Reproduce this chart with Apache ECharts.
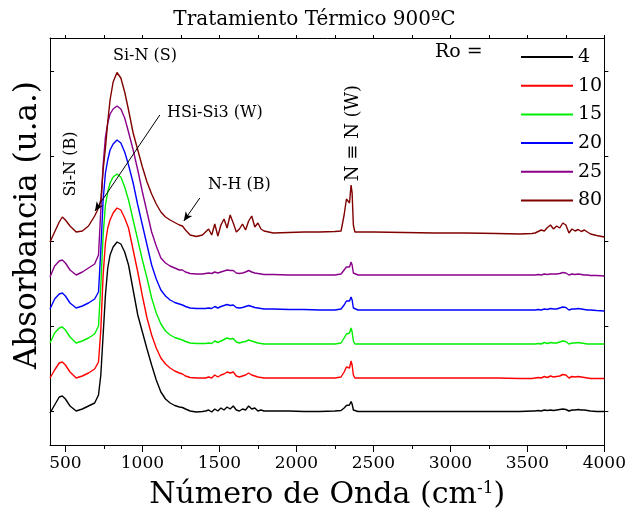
<!DOCTYPE html>
<html>
<head>
<meta charset="utf-8">
<script src="https://cdn.jsdelivr.net/npm/echarts@6/dist/echarts.min.js"></script>
<style>
  html, body { margin: 0; padding: 0; background: #fff; }
  #chart { width: 629px; height: 519px; }
</style>
</head>
<body>
<div id="chart"></div>
<script>
// wavenumbers (cm-1), shared by every spectrum
const waveNumbers = [
  400, 430, 460, 480, 500, 530, 570, 610, 650, 690, 715, 730, 745, 760, 775, 790, 810, 835, 860, 885,
  910, 940, 970, 1000, 1030, 1060, 1090, 1120, 1150, 1180, 1210, 1240, 1260, 1280, 1310, 1350, 1390,
  1410, 1430, 1450, 1470, 1490, 1510, 1530, 1550, 1570, 1590, 1610, 1630, 1650, 1670, 1690, 1710, 1730, 1750, 1770, 1790,
  1850, 1950, 2050, 2150, 2250, 2290, 2310, 2325, 2335, 2345, 2355, 2362, 2370, 2380, 2400, 2500, 2700, 2900, 3100, 3300, 3450,
  3530, 3550, 3570, 3590, 3610, 3630, 3650, 3670, 3690, 3710, 3730, 3750, 3770, 3790, 3810, 3830, 3850, 3870, 3890, 3910,
  3950, 4000
]

// absorbance (u.a., stacked)
const ro4 = [
  3.2, 4.0, 4.8, 4.9, 4.6, 3.9, 3.4, 3.6, 3.9, 4.2, 5.0, 7.0, 11.0, 15.0, 17.7, 19.0, 19.8, 20.3, 20.1, 19.3,
  18.0, 15.5, 13.0, 11.3, 9.6, 8.0, 6.5, 5.3, 4.6, 4.2, 3.95, 3.8, 3.75, 3.6, 3.4, 3.3, 3.35,
  3.4, 3.5, 3.3, 3.6, 3.4, 3.7, 3.5, 3.8, 3.6, 3.9, 3.5, 3.4, 3.6, 3.5, 3.9, 3.6, 3.7, 3.4, 3.5, 3.4,
  3.4, 3.4, 3.35, 3.35, 3.4, 3.45, 3.7, 3.95, 4.05, 4.0, 4.35, 4.1, 3.5, 3.35, 3.35, 3.35, 3.35, 3.35, 3.35, 3.35, 3.35,
  3.4, 3.4, 3.45, 3.4, 3.5, 3.45, 3.5, 3.45, 3.5, 3.55, 3.6, 3.55, 3.4, 3.5, 3.5, 3.55, 3.5, 3.5, 3.45, 3.4,
  3.35, 3.35
]
const ro10 = [
  6.7, 7.5, 8.2, 8.3, 8.0, 7.3, 6.7, 6.9, 7.2, 7.6, 8.3, 11.5, 17.0, 20.2, 21.7, 22.5, 23.2, 23.7, 23.5, 22.7,
  21.7, 19.5, 17.3, 14.9, 12.7, 11.0, 9.7, 8.7, 8.1, 7.7, 7.4, 7.2, 7.1, 6.9, 6.75, 6.7, 6.7,
  6.7, 6.8, 6.7, 7.0, 6.8, 7.0, 7.1, 7.3, 7.2, 7.3, 6.9, 6.8, 6.9, 7.0, 7.2, 7.0, 6.9, 6.8, 6.75, 6.7,
  6.7, 6.7, 6.7, 6.7, 6.7, 6.8, 7.3, 7.8, 7.9, 7.7, 8.4, 8.0, 7.0, 6.7, 6.7, 6.7, 6.7, 6.7, 6.7, 6.7, 6.65,
  6.65, 6.7, 6.75, 6.7, 6.85, 6.75, 6.9, 6.8, 6.85, 6.9, 7.05, 7.0, 6.7, 6.85, 6.8, 6.85, 6.8, 6.75, 6.7, 6.65,
  6.65, 6.65
]
const ro15 = [
  10.2, 11.2, 11.7, 11.8, 11.5, 10.8, 10.2, 10.4, 10.7, 11.1, 11.9, 16.0, 21.0, 24.0, 25.3, 26.2, 26.8, 27.1, 26.8, 25.8,
  24.5, 22.5, 20.5, 18.5, 16.7, 14.7, 13.2, 12.1, 11.4, 11.0, 10.75, 10.6, 10.5, 10.35, 10.2, 10.15, 10.15,
  10.15, 10.2, 10.15, 10.4, 10.25, 10.4, 10.55, 10.7, 10.6, 10.65, 10.3, 10.2, 10.3, 10.35, 10.5, 10.4, 10.3, 10.2, 10.15, 10.1,
  10.1, 10.1, 10.1, 10.1, 10.1, 10.2, 10.7, 11.1, 11.25, 11.2, 11.7, 11.3, 10.4, 10.1, 10.1, 10.1, 10.1, 10.1, 10.1, 10.1, 10.1,
  10.1, 10.1, 10.15, 10.1, 10.25, 10.15, 10.25, 10.2, 10.2, 10.3, 10.4, 10.35, 10.1, 10.2, 10.2, 10.25, 10.2, 10.15, 10.1, 10.1,
  10.1, 10.1
]
const ro20 = [
  13.6, 14.6, 15.1, 15.2, 14.9, 14.2, 13.7, 13.9, 14.2, 14.6, 15.3, 19.5, 24.5, 27.2, 28.5, 29.5, 30.1, 30.5, 30.2, 29.3,
  28.0, 26.2, 24.0, 22.0, 20.0, 18.0, 16.6, 15.5, 14.9, 14.5, 14.25, 14.1, 14.0, 13.85, 13.7, 13.65, 13.65,
  13.65, 13.7, 13.65, 13.85, 13.7, 13.85, 13.95, 14.05, 13.95, 14.0, 13.75, 13.7, 13.75, 13.85, 13.95, 13.85, 13.75, 13.7, 13.65, 13.6,
  13.6, 13.55, 13.55, 13.5, 13.5, 13.6, 14.0, 14.4, 14.5, 14.4, 14.8, 14.5, 13.7, 13.5, 13.5, 13.5, 13.5, 13.5, 13.5, 13.5, 13.5,
  13.5, 13.5, 13.55, 13.5, 13.6, 13.55, 13.65, 13.6, 13.6, 13.7, 13.8, 13.75, 13.5, 13.6, 13.6, 13.65, 13.6, 13.55, 13.5, 13.5,
  13.45, 13.4
]
const ro25 = [
  16.8, 17.9, 18.4, 18.5, 18.2, 17.5, 17.0, 17.3, 17.7, 18.1, 19.0, 23.5, 28.0, 30.8, 32.2, 33.1, 33.6, 33.9, 33.6, 32.7,
  31.3, 29.5, 27.5, 25.3, 23.3, 21.3, 19.9, 18.7, 18.2, 17.9, 17.7, 17.5, 17.5, 17.3, 17.15, 17.1, 17.1,
  17.15, 17.2, 17.15, 17.3, 17.2, 17.3, 17.4, 17.5, 17.45, 17.45, 17.2, 17.15, 17.2, 17.3, 17.45, 17.3, 17.2, 17.15, 17.1, 17.05,
  17.05, 17.0, 17.0, 17.0, 17.0, 17.1, 17.5, 17.8, 17.9, 17.8, 18.3, 18.0, 17.2, 17.0, 17.0, 17.0, 17.0, 17.0, 17.0, 17.0, 17.0,
  17.0, 17.0, 17.05, 17.0, 17.1, 17.05, 17.1, 17.1, 17.1, 17.15, 17.25, 17.2, 17.0, 17.1, 17.05, 17.1, 17.05, 17.0, 17.0, 16.95,
  16.95, 16.9
]
const ro80 = [
  20.3, 21.3, 22.3, 22.8, 22.5, 21.9, 21.3, 21.4, 21.9, 22.9, 23.7, 24.5, 27.5, 29.7, 32.3, 34.5, 36.3, 37.25, 36.7, 35.3,
  33.5, 31.2, 29.5, 27.8, 26.3, 25.1, 24.1, 23.3, 22.8, 22.5, 22.25, 22.0, 21.9, 21.5, 21.0, 20.85, 21.0,
  21.3, 21.6, 21.0, 22.1, 20.9, 22.0, 22.6, 21.7, 23.0, 22.2, 21.3, 21.6, 22.1, 21.5, 22.4, 22.9, 21.8, 22.2, 21.6, 21.4,
  21.2, 21.25, 21.3, 21.3, 21.35, 21.4, 23.0, 24.6, 24.8, 24.2, 26.0, 25.2, 22.0, 21.3, 21.3, 21.3, 21.25, 21.2, 21.2, 21.15, 21.1,
  21.15, 21.2, 21.35, 21.5, 21.4, 21.75, 22.0, 21.6, 21.9, 21.7, 22.2, 22.0, 21.2, 21.6, 21.4, 21.55, 21.35, 21.5, 21.3, 21.1,
  20.95, 20.8
]

const seriesNames = ['4', '10', '15', '20', '25', '80']
const seriesValues = [ro4, ro10, ro15, ro20, ro25, ro80]
const seriesColors = ['#000000', '#ff0000', '#00ee00', '#0000ff', '#8b008b', '#800000']

const majorTicks = [500, 1000, 1500, 2000, 2500, 3000, 3500, 4000]
const minorTicks = [750, 1250, 1750, 2250, 2750, 3250, 3750]
const yTicks = [3.33, 11.83, 20.33, 28.83, 37.33]

const serif = '"DejaVu Serif", "Liberation Serif", serif'

const chart = echarts.init(document.getElementById('chart'))

const series = seriesNames.map((name, k) => ({
  name: name,
  type: 'line',
  symbol: 'none',
  data: waveNumbers.map((x, i) => [x, seriesValues[k][i]]),
  lineStyle: { color: seriesColors[k], width: 1.4 },
  itemStyle: { color: seriesColors[k] }
}))

// annotation arrows, in data coordinates
series[5].markLine = {
  silent: true,
  symbol: ['none', 'arrow'],
  symbolSize: [6, 9],
  label: { show: false },
  lineStyle: { color: '#000', width: 1, type: 'solid' },
  data: [
    [{ coord: [1113, 33.0] }, { coord: [692, 23.4] }],
    [{ coord: [1373, 24.7] }, { coord: [1269, 22.4] }]
  ]
}

const baseX = { type: 'value', min: 400, max: 4000, splitLine: { show: false } }
const baseY = { type: 'value', min: 0, max: 40.7, splitLine: { show: false }, axisLabel: { show: false } }

chart.setOption({
  animation: false,
  title: {
    text: 'Tratamiento Térmico 900ºC',
    left: 'center',
    top: 5,
    textStyle: { fontFamily: serif, fontSize: 20, fontWeight: 'normal', color: '#000' }
  },
  legend: {
    orient: 'vertical',
    left: 516,
    top: 42,
    icon: 'rect',
    itemWidth: 52,
    itemHeight: 2,
    itemGap: 8.7,
    data: seriesNames,
    textStyle: { fontFamily: serif, fontSize: 19, lineHeight: 20, color: '#000', padding: [0, 0, 0, 0] }
  },
  grid: { left: 50, right: 24, top: 38, bottom: 74 },
  xAxis: [
    Object.assign({}, baseX, {
      position: 'bottom',
      axisLine: { lineStyle: { color: '#000', width: 1 } },
      axisTick: { customValues: majorTicks, length: 7, lineStyle: { color: '#000' } },
      axisLabel: { customValues: majorTicks, margin: 10, fontFamily: serif, fontSize: 17, color: '#000',
        formatter: v => String(v) },
      name: 'Número de Onda (cm{sup|-1})',
      nameLocation: 'middle',
      nameGap: 35,
      nameTextStyle: {
        fontFamily: serif, fontSize: 30, color: '#000',
        rich: { sup: { fontFamily: serif, fontSize: 17, verticalAlign: 'top', padding: [0, 0, 12, 0] } }
      }
    }),
    Object.assign({}, baseX, {
      position: 'bottom',
      axisLine: { show: false },
      axisTick: { customValues: minorTicks, length: 4, lineStyle: { color: '#000' } },
      axisLabel: { show: false }
    }),
    Object.assign({}, baseX, {
      position: 'top',
      axisLine: { lineStyle: { color: '#000', width: 1 } },
      axisTick: { customValues: majorTicks.concat(minorTicks), length: 3, lineStyle: { color: '#000' } },
      axisLabel: { show: false }
    })
  ],
  yAxis: [
    Object.assign({}, baseY, {
      position: 'left',
      axisLine: { show: true, lineStyle: { color: '#000', width: 1 } },
      axisTick: { show: true, inside: true, customValues: yTicks, length: 4, lineStyle: { color: '#000' } }
    }),
    Object.assign({}, baseY, {
      position: 'right',
      axisLine: { show: true, lineStyle: { color: '#000', width: 1 } },
      axisTick: { show: true, customValues: yTicks, length: 4, lineStyle: { color: '#000' } }
    })
  ],
  graphic: [
    { type: 'text', x: 28, y: 225, rotation: Math.PI / 2,
      style: { text: 'Absorbancia (u.a.)', font: '31px ' + serif, fill: '#000', align: 'center', verticalAlign: 'middle' } },
    { type: 'text', x: 145, y: 56,
      style: { text: 'Si-N (S)', font: '16px ' + serif, fill: '#000', align: 'center', verticalAlign: 'middle' } },
    { type: 'text', x: 167, y: 113,
      style: { text: 'HSi-Si3 (W)', font: '16px ' + serif, fill: '#000', align: 'left', verticalAlign: 'middle' } },
    { type: 'text', x: 208, y: 185,
      style: { text: 'N-H (B)', font: '16px ' + serif, fill: '#000', align: 'left', verticalAlign: 'middle' } },
    { type: 'text', x: 71, y: 164, rotation: Math.PI / 2,
      style: { text: 'Si-N (B)', font: '16px ' + serif, fill: '#000', align: 'center', verticalAlign: 'middle' } },
    { type: 'text', x: 353, y: 133, rotation: Math.PI / 2,
      style: { text: 'N \u2261 N (W)', font: '18px ' + serif, fill: '#000', align: 'center', verticalAlign: 'middle' } },
    { type: 'text', x: 435, y: 52,
      style: { text: 'Ro =', font: '19px ' + serif, fill: '#000', align: 'left', verticalAlign: 'middle' } }
  ],
  series: series
})
</script>
</body>
</html>
